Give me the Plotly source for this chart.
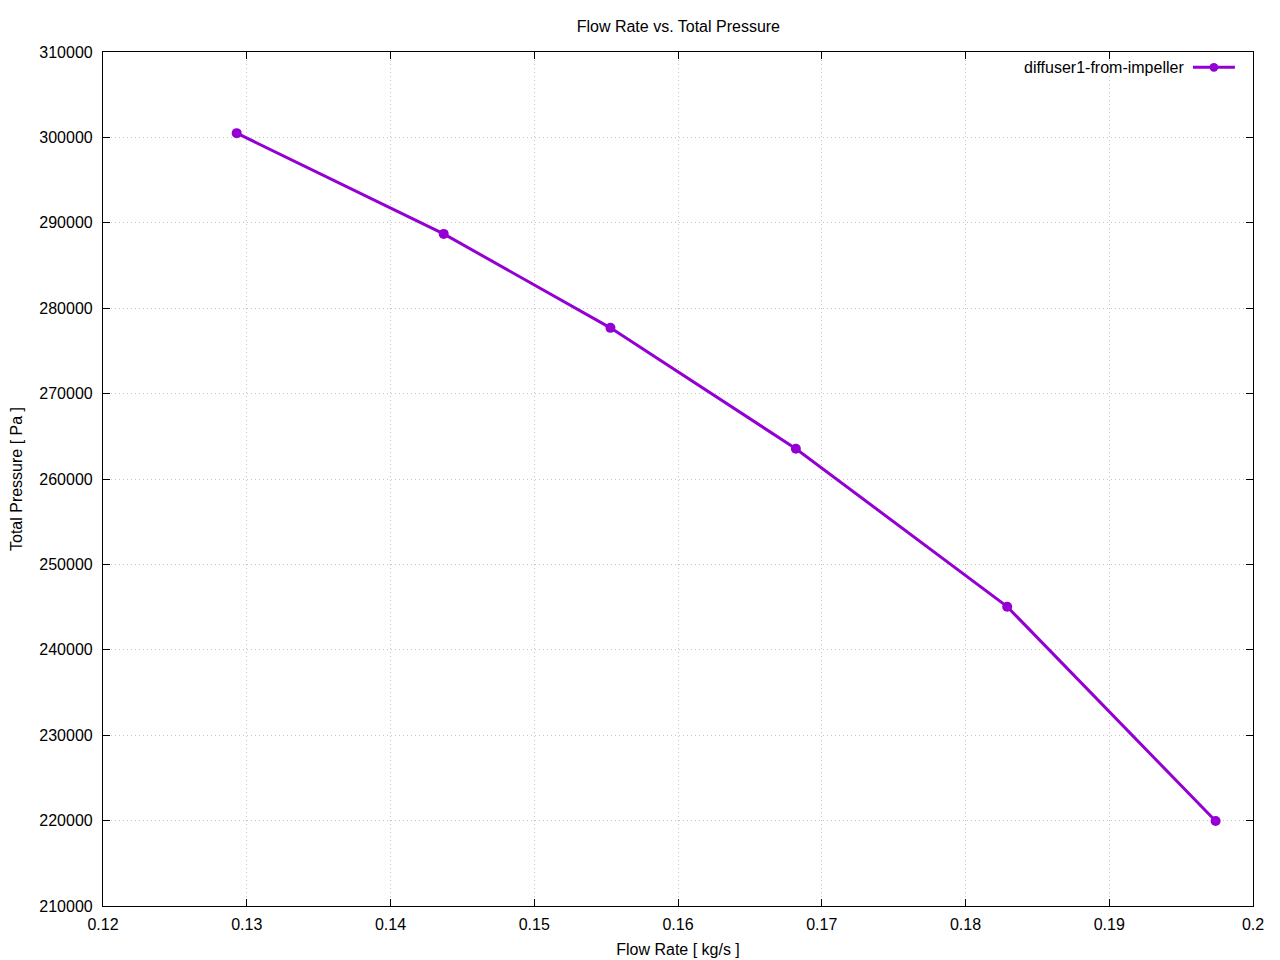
import plotly.graph_objects as go

flow_rate = [0.1293, 0.1437, 0.1553, 0.1682, 0.1829, 0.1974]
total_pressure = [300500, 288700, 277700, 263550, 245050, 219950]
series_name = "diffuser1-from-impeller"
x_ticks = [0.12, 0.13, 0.14, 0.15, 0.16, 0.17, 0.18, 0.19, 0.2]
x_tick_labels = ["0.12", "0.13", "0.14", "0.15", "0.16", "0.17", "0.18", "0.19", "0.2"]
y_ticks = [210000, 220000, 230000, 240000, 250000, 260000, 270000, 280000, 290000, 300000, 310000]

color = "#9400D3"
font = "Liberation Sans, Arial, sans-serif"

fig = go.Figure()
fig.add_trace(go.Scatter(
    x=flow_rate, y=total_pressure, mode="lines+markers", name=series_name,
    line=dict(color=color, width=3), marker=dict(color=color, size=10),
    showlegend=False,
))

axis_common = dict(
    automargin=False,
    showline=True, linecolor="black", linewidth=1.2, mirror="ticks",
    ticks="inside", ticklen=7, tickcolor="black", tickwidth=1,
    showgrid=True, gridcolor="#c4c4c4", griddash="1px,3px", gridwidth=1,
    zeroline=False, tickfont=dict(family=font, size=16, color="black"),
)

# page body has an 8px margin: size the figure so the plot lands where the reference has it
fig.update_layout(
    width=1272, height=952,
    margin=dict(l=95, r=27, t=44, b=54),
    paper_bgcolor="white", plot_bgcolor="white",
    font=dict(family=font, size=16, color="black"),
    title=dict(text="Flow Rate vs. Total Pressure", x=0.527, xanchor="center", y=0.981, yanchor="middle",
               font=dict(family=font, size=16)),
    xaxis=dict(range=[0.12, 0.2], tickvals=x_ticks, ticktext=x_tick_labels, ticklabelstandoff=4,
               title=dict(text="Flow Rate [ kg/s ]", standoff=11, font=dict(size=16)), **axis_common),
    yaxis=dict(range=[210000, 310000], tickvals=y_ticks, tickformat="d", ticklabelstandoff=6,
               title=dict(text="Total Pressure [ Pa ]", standoff=14, font=dict(size=16)), **axis_common),
)

# gnuplot-style legend: text on the left, sample on the right
fig.add_annotation(xref="paper", yref="paper", x=0.9417, y=0.982, xanchor="right", yanchor="middle",
                   text=series_name, showarrow=False, font=dict(family=font, size=16, color="black"))
fig.add_shape(type="line", xref="paper", yref="paper", x0=0.9478, x1=0.9843, y0=0.982, y1=0.982,
              line=dict(color=color, width=3))
fig.add_shape(type="circle", xref="paper", yref="paper", x0=0.9622, x1=0.9698, y0=0.9768, y1=0.9872,
              line=dict(color=color, width=0), fillcolor=color)

fig.write_html("out.html")
